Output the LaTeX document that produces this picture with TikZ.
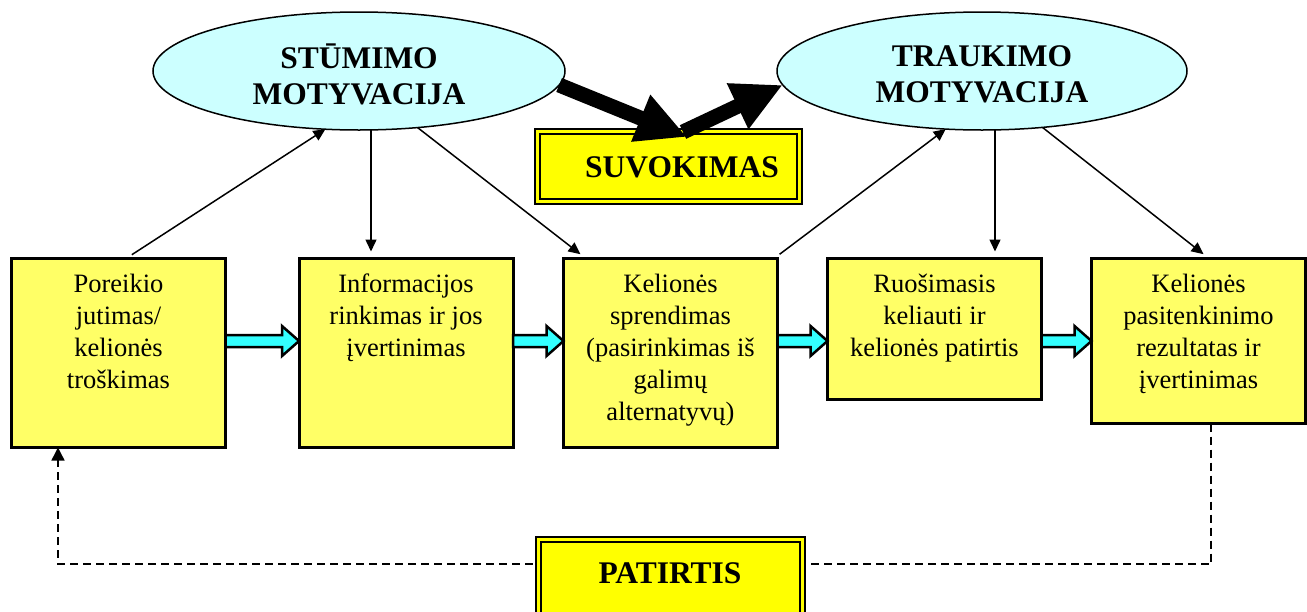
\documentclass[tikz,border=0pt]{standalone}
\usepackage{fontspec}
\setmainfont{Liberation Serif}
\usetikzlibrary{shapes.geometric,arrows.meta,calc}
\definecolor{stageyellow}{HTML}{FFFF66}
\definecolor{ovalcyan}{HTML}{CCFFFF}
\definecolor{flowcyan}{HTML}{33FFFF}
\definecolor{banneryellow}{HTML}{FFFF00}

\begin{document}
\begin{tikzpicture}[x=1pt,y=-1pt,
  stage/.style={rectangle, draw=black, line width=3pt, fill=stageyellow,
    inner sep=0pt, outer sep=0pt, minimum width=214pt},
  stagetext/.style={anchor=north, align=center, inner sep=0pt,
    font=\fontsize{26.5}{32}\selectfont},
  oval/.style={ellipse, draw=black, line width=1.5pt, fill=ovalcyan,
    inner sep=0pt, outer sep=0pt, minimum height=118pt},
  boldtext/.style={align=center, inner sep=0pt,
    font=\fontsize{31.5}{36}\selectfont\bfseries},
  banner/.style={rectangle, draw=black, line width=2pt, double=banneryellow,
    double distance=3pt, fill=banneryellow, inner sep=0pt, outer sep=0pt},
  link/.style={line width=1.5pt, -{Triangle[length=12pt,width=11pt]}},
  bigarrow/.style={line width=15pt, -{Triangle[length=50pt,width=47pt]}},
  flow/.style={draw=black, line width=2.5pt, fill=flowcyan, line join=miter},
  feedback/.style={line width=1.5pt, dash pattern=on 8pt off 5pt,
    -{Triangle[length=13pt,width=13pt]}}
]
\useasboundingbox (0,0) rectangle (1307,611);

% stages of the travel decision process
\node[stage, minimum height=189pt] (b1) at (118.5,353) {};
\node[stage, minimum height=189pt] (b2) at (406,353) {};
\node[stage, minimum height=189pt] (b3) at (670.5,353) {};
\node[stage, minimum height=141pt] (b4) at (934.5,329) {};
\node[stage, minimum height=165pt] (b5) at (1198.5,341) {};

\node[stagetext] (t1) at (118.5,274) {Poreikio\\jutimas/\\kelionės\\troškimas};
\node[stagetext] (t2) at (406,274) {Informacijos\\rinkimas ir jos\\įvertinimas};
\node[stagetext] (t3) at (670.5,274) {Kelionės\\sprendimas\\(pasirinkimas iš\\galimų\\alternatyvų)};
\node[stagetext] (t4) at (934.5,274) {Ruošimasis\\keliauti ir\\kelionės patirtis};
\node[stagetext] (t5) at (1198.5,274) {Kelionės\\pasitenkinimo\\rezultatas ir\\įvertinimas};

% feedback loop through experience
\coordinate (fbR) at (1211,564);
\coordinate (fbL) at (58,564);
\draw[feedback] (b5.south -| fbR) -- (fbR) -- (fbL) -- (b1.south -| fbL);

% block arrows between consecutive stages
\coordinate (row) at (0,341);
\foreach \a/\b in {b1/b2,b2/b3,b3/b4,b4/b5}
  \draw[flow] let \p1=(\a.east |- row), \p2=(\b.west |- row) in
    (\x1,\y1+6pt) -- (\x2-17pt,\y1+6pt) -- (\x2-17pt,\y1+15pt) -- (\x2,\y1)
    -- (\x2-17pt,\y1-15pt) -- (\x2-17pt,\y1-6pt) -- (\x1,\y1-6pt) -- cycle;

% motivation ovals
\node[oval, minimum width=412pt] (e1) at (359,71) {};
\node[oval, minimum width=410pt] (e2) at (982,71) {};
\node[boldtext] (m1) at (359,74) {STŪMIMO\\MOTYVACIJA};
\node[boldtext] (m2) at (982,74) {TRAUKIMO\\MOTYVACIJA};

% links between ovals and stages
\draw[link, shorten <=7pt] (b1.north -| 126,0) -- (e1.-120);
\draw[link, shorten >=7pt] (e1.south -| 371,0) -- (b2.north -| 371,0);
\draw[link, shorten >=7pt] (e1.-44) -- (b3.north -| 586,0);
\draw[link, shorten <=7pt] (b3.north -| 774,0) -- (e2.-122);
\draw[link, shorten >=7pt] (e2.south -| 995,0) -- (b4.north -| 995,0);
\draw[link, shorten >=7pt] (e2.-43) -- (b5.north -| 1209,0);

% perception and experience banners
\node[banner, minimum width=262pt, minimum height=70pt] (sv) at (668.5,166.5) {};
\node[boldtext] (svt) at (682,167) {SUVOKIMAS};
\node[banner, minimum width=264pt, minimum height=80pt] (pt) at (670.5,579.5) {};
\node[boldtext] (ptt) at (670,573) {PATIRTIS};

% heavy arrows through perception
\coordinate (svIn) at (687,137);
\coordinate (svOut) at (683,132);
\draw[bigarrow] (e1.-4) -- (svIn);
\draw[bigarrow] (svOut) -- (e2.-176);
\end{tikzpicture}
\end{document}
